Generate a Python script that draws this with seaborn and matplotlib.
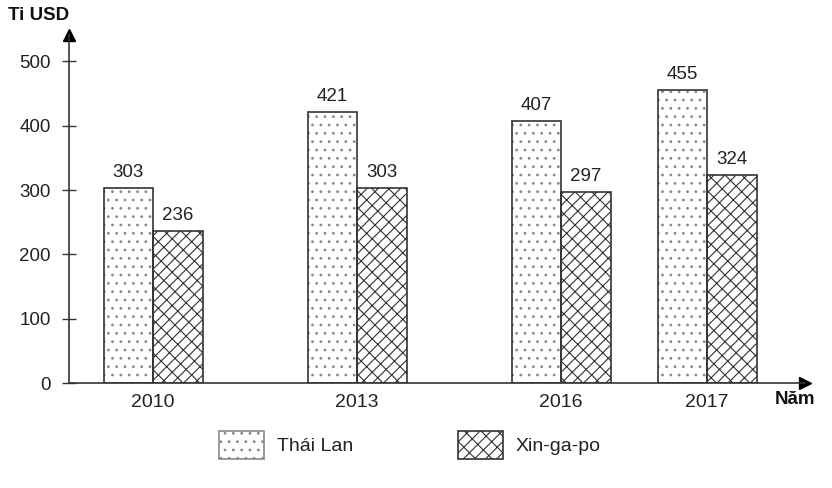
import matplotlib
matplotlib.use("Agg")
import matplotlib.pyplot as plt
from matplotlib.patches import Patch
import seaborn as sns
import pandas as pd

# ---- data ----
years = ["2010", "2013", "2016", "2017"]
thai_lan = [303, 421, 407, 455]
xin_ga_po = [236, 303, 297, 324]
series_names = ["Thái Lan", "Xin-ga-po"]

# ---- layout (horizontal slot centres, px-like units) ----
slot_pos = [153, 357, 561, 707]

sns.set_theme(style="white")
plt.rcParams["font.family"] = ["Liberation Sans", "DejaVu Sans"]
plt.rcParams["hatch.linewidth"] = 0.8

df = pd.DataFrame({
    "pos": slot_pos * 2,
    "value": thai_lan + xin_ga_po,
    "series": [series_names[0]] * 4 + [series_names[1]] * 4,
})

fig = plt.figure(figsize=(8.32, 4.88), dpi=100)
ax = fig.add_axes([69 / 832, (488 - 383) / 488, (805 - 69) / 832, (383 - 35) / 488])

sns.barplot(data=df, x="pos", y="value", hue="series", native_scale=True,
            width=99 / 146, dodge=True, ax=ax, legend=False,
            palette=["white", "white"], saturation=1)

hatches = ["..", "///\\\\"]
hatch_cols = ["#8a8a8a", "#333333"]
for cont, h, hc in zip(ax.containers, hatches, hatch_cols):
    for p in cont:
        p.set_facecolor("white")
        p.set_edgecolor(hc)
        p.set_hatch(h)
        p.set_linewidth(0)
    ax.bar_label(cont, fontsize=13.5, padding=5, color="#222222")
# darker outline over hatched bars
for cont in ax.containers:
    for p in cont:
        x, y = p.get_xy()
        ax.add_patch(plt.Rectangle((x, y), p.get_width(), p.get_height(),
                                   fill=False, edgecolor="#333333", linewidth=1.2))

ax.set_xlim(69, 805)
ax.set_ylim(0, 541)
ax.set_yticks([0, 100, 200, 300, 400, 500])
ax.set_xticks(slot_pos, labels=years)
ax.tick_params(axis="y", direction="inout", length=10, width=1, color="#333333",
               labelsize=13.5, pad=8, labelcolor="#222222", left=True)
ax.tick_params(axis="x", length=0, labelsize=14, pad=8, labelcolor="#222222")
ax.set_xlabel("")
ax.set_ylabel("")
for s in ["top", "right"]:
    ax.spines[s].set_visible(False)
for s in ["left", "bottom"]:
    ax.spines[s].set_color("#333333")
    ax.spines[s].set_linewidth(1.2)

ax.plot(1, 0, marker=">", markersize=8, color="black", transform=ax.transAxes, clip_on=False)
ax.plot(0, 1, marker="^", markersize=8, color="black", transform=ax.transAxes, clip_on=False)

fig.text(8 / 832, 1 - 16 / 488, "Ti USD", fontsize=13.5, fontweight="bold",
         va="center", ha="left", color="#111111")
fig.text(775 / 832, 1 - 400 / 488, "Năm", fontsize=13.5, fontweight="bold",
         va="center", ha="left", color="#111111")

handles = [Patch(facecolor="white", edgecolor=hatch_cols[0], hatch=hatches[0], linewidth=0),
           Patch(facecolor="white", edgecolor=hatch_cols[1], hatch=hatches[1], linewidth=0)]
leg = fig.legend(handles, series_names, loc="center", ncol=2, frameon=False,
                 bbox_to_anchor=(410 / 832, 1 - 445 / 488), fontsize=14,
                 handlelength=2.3, handleheight=1.8, handletextpad=0.67, columnspacing=5.4,
                 labelcolor="#222222")
# outline legend handles in dark grey
for hp in leg.legend_handles:
    hp.set_linewidth(1.2)
    hp.set_edgecolor(hp.get_edgecolor())

fig.savefig("out.png", dpi=100)
